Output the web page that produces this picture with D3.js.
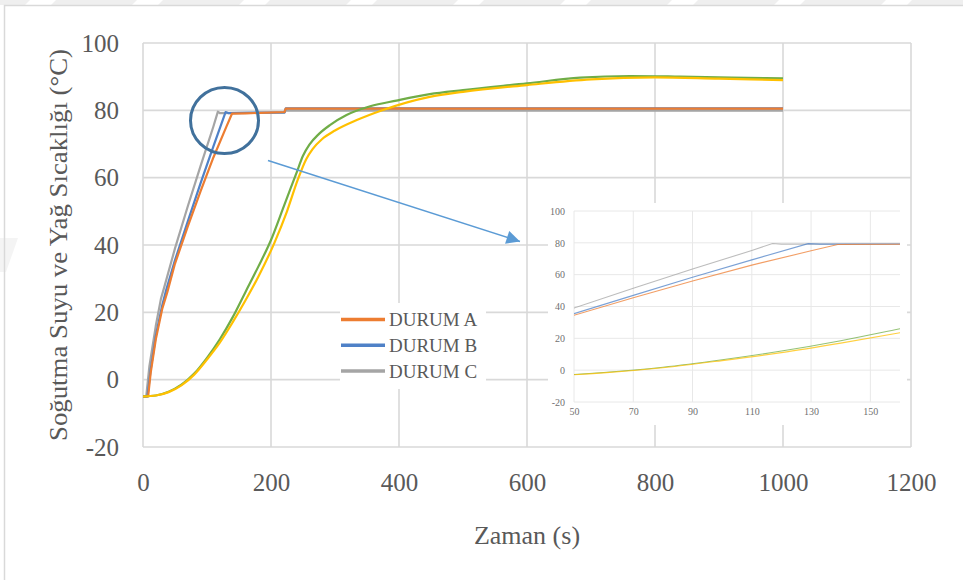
<!DOCTYPE html>
<html>
<head>
<meta charset="utf-8">
<script src="https://d3js.org/d3.v7.min.js"></script>
<style>
  body { margin: 0; background: #fff; }
  svg { display: block; font-family: "Liberation Serif", "Times New Roman", serif; }
</style>
</head>
<body>
<svg id="chart"></svg>
<script>
//Chart Data (time in s, temperature in °C)
const seriesNames = ["DURUM A", "DURUM B", "DURUM C"];
const seriesColors = ["#ED7D31", "#4F81C7", "#A5A5A5"];

const timeA = [0, 8, 12, 20, 30, 38, 50, 70, 90, 110, 130, 139, 160, 221, 223, 1000];
const tempA = [-5, -5, 2, 12, 21, 26, 34.5, 45.5, 56, 66, 75, 79, 79.1, 79.5, 80.5, 80.5];

const timeB = [0, 7, 12, 20, 30, 36, 50, 70, 90, 110, 129, 133, 221, 223, 1000];
const tempB = [-5, -5, 3, 13, 22, 26.5, 35.5, 47, 58.4, 69.3, 79.5, 79.2, 79.4, 80.6, 80.6];

const timeC = [0, 5, 10, 20, 28, 34, 50, 70, 90, 110, 117, 120, 221, 223, 1000];
const tempC = [-5, -5, 4, 16, 24, 28, 39, 51.5, 63.5, 75.2, 79.6, 79.2, 79.3, 79.9, 79.9];

//Oil temperature lines (no legend entry)
const timeGreen = [0, 20, 40, 60, 80, 100, 120, 140, 160, 180, 200, 220, 240, 250, 260, 275, 292, 318, 355, 396, 448, 500, 600, 683, 761, 839, 920, 1000];
const tempGreen = [-5, -4.7, -3.6, -1.5, 1.8, 6.5, 12, 18.5, 26, 33.5, 41.5, 51.5, 61.5, 66.5, 69.8, 73, 75.6, 78.6, 81.2, 82.9, 84.8, 86, 88, 89.7, 90.2, 90, 89.7, 89.5];

const timeYellow = [0, 20, 40, 60, 80, 100, 120, 140, 160, 180, 205, 225, 242, 255, 265, 280, 300, 334, 375, 448, 500, 600, 700, 800, 900, 1000];
const tempYellow = [-5, -4.7, -3.7, -1.7, 1.5, 6, 11, 17, 23.5, 30.5, 40.5, 50, 59.5, 65.5, 68.5, 71.5, 74, 77.1, 80.1, 84, 85.5, 87.5, 89.2, 89.8, 89.4, 89];

//Tick labels
const xTicks = [0, 200, 400, 600, 800, 1000, 1200];
const yTicks = [-20, 0, 20, 40, 60, 80, 100];
const insetXTicks = [50, 70, 90, 110, 130, 150];
const insetYTicks = [-20, 0, 20, 40, 60, 80, 100];

//Build series list (draw order: C, B, A, green, yellow)
const zip = (ts, vs) => ts.map((t, i) => ({ t: t, v: vs[i] }));
const series = [
  { name: seriesNames[2], color: seriesColors[2], pts: zip(timeC, tempC), curve: d3.curveLinear },
  { name: seriesNames[1], color: seriesColors[1], pts: zip(timeB, tempB), curve: d3.curveLinear },
  { name: seriesNames[0], color: seriesColors[0], pts: zip(timeA, tempA), curve: d3.curveLinear },
  { name: "green", color: "#70AD47", pts: zip(timeGreen, tempGreen), curve: d3.curveMonotoneX },
  { name: "yellow", color: "#FFC000", pts: zip(timeYellow, tempYellow), curve: d3.curveMonotoneX }
];

const w = 963;
const h = 580;
const serif = "'Liberation Serif', 'Times New Roman', serif";
const textColor = "#595959";
const gridColor = "#D9D9D9";

const svg = d3.select("#chart").attr("width", w).attr("height", h).attr("font-family", serif);

//Watermark band and chart frame
svg.append("rect").attr("x", 0).attr("y", 0).attr("width", w).attr("height", 5).attr("fill", "#EFEFEF");
svg.selectAll(".gap")
   .data(d3.range(0, 10))
   .enter()
   .append("polygon")
   .attr("points", (d) => {
     const x0 = 30 + d * 107;
     return `${x0},0 ${x0 + 26},0 ${x0 + 21},5 ${x0 - 5},5`;
   })
   .attr("fill", "#fff");
svg.append("polygon").attr("points", "0,238 18,238 6,272 0,272").attr("fill", "#F4F4F4");
svg.append("path")
   .attr("d", `M4.5,${h} V5.5 H${w}`)
   .attr("fill", "none")
   .attr("stroke", gridColor)
   .attr("stroke-width", 1.5);

//Scales
const x = d3.scaleLinear().domain([0, 1200]).range([143, 911]);
const y = d3.scaleLinear().domain([-20, 100]).range([447, 43]);

//Grid
const grid = svg.append("g");
grid.selectAll(".hgrid")
    .data(yTicks)
    .enter()
    .append("line")
    .attr("x1", x(0)).attr("x2", x(1200))
    .attr("y1", (d) => y(d)).attr("y2", (d) => y(d))
    .attr("stroke", gridColor).attr("stroke-width", 1.6);
grid.selectAll(".vgrid")
    .data(xTicks)
    .enter()
    .append("line")
    .attr("x1", (d) => x(d)).attr("x2", (d) => x(d))
    .attr("y1", y(100)).attr("y2", y(-20))
    .attr("stroke", gridColor).attr("stroke-width", 1.6);

//Axes labels through d3 axes
const xAxis = svg.append("g")
                 .attr("transform", `translate(0, ${y(-20)})`)
                 .call(d3.axisBottom(x).tickValues(xTicks).tickSize(0).tickPadding(26).tickFormat(d3.format("d")));
const yAxis = svg.append("g")
                 .attr("transform", `translate(${x(0)}, 0)`)
                 .call(d3.axisLeft(y).tickValues(yTicks).tickSize(0).tickPadding(24).tickFormat(d3.format("d")));
[xAxis, yAxis].forEach((a) => {
  a.attr("font-family", serif).attr("font-size", 25);
  a.select(".domain").remove();
  a.selectAll("text")
   .attr("fill", textColor)
   .style("font-family", serif)
   .style("font-size", "25px");
});
yAxis.selectAll("text").text((d) => d < 0 ? "-" + Math.abs(d) : d);

//Axis titles
svg.append("text")
   .attr("x", 527)
   .attr("y", 544)
   .attr("text-anchor", "middle")
   .attr("fill", textColor)
   .style("font-size", "26px")
   .text("Zaman (s)");

svg.append("text")
   .attr("transform", "translate(67, 245) rotate(-90)")
   .attr("text-anchor", "middle")
   .attr("fill", textColor)
   .attr("textLength", 392)
   .attr("lengthAdjust", "spacingAndGlyphs")
   .style("font-size", "26px")
   .text("Soğutma Suyu ve Yağ Sıcaklığı (°C)");

//Main lines
const plot = svg.append("g");
plot.selectAll(".line")
    .data(series)
    .enter()
    .append("path")
    .attr("fill", "none")
    .attr("stroke", (d) => d.color)
    .attr("stroke-width", 2.2)
    .attr("stroke-linejoin", "round")
    .attr("d", (d) => d3.line().x((p) => x(p.t)).y((p) => y(p.v)).curve(d.curve)(d.pts));

//Legend
svg.append("rect").attr("x", 340).attr("y", 303).attr("width", 146).attr("height", 86).attr("fill", "#fff");
const legend = svg.append("g");
const legendRows = legend.selectAll(".row")
                         .data([0, 1, 2])
                         .enter()
                         .append("g")
                         .attr("transform", (d, i) => `translate(341, ${319.5 + i * 25.8})`);
legendRows.append("line")
          .attr("x1", 0).attr("x2", 44)
          .attr("stroke", (d) => seriesColors[d])
          .attr("stroke-width", 3.5);
legendRows.append("text")
          .attr("x", 48)
          .attr("y", 6.5)
          .attr("fill", textColor)
          .style("font-size", "19px")
          .text((d) => seriesNames[d]);

//Highlight circle and arrow
svg.append("ellipse")
   .attr("cx", 224.5).attr("cy", 120.5)
   .attr("rx", 34).attr("ry", 33)
   .attr("fill", "none")
   .attr("stroke", "#41719C")
   .attr("stroke-width", 3);

const defs = svg.append("defs");
defs.append("marker")
    .attr("id", "arrow")
    .attr("viewBox", "0 0 10 10")
    .attr("refX", 10).attr("refY", 5)
    .attr("markerWidth", 11).attr("markerHeight", 9)
    .attr("markerUnits", "strokeWidth")
    .attr("orient", "auto")
    .append("path")
    .attr("d", "M0,0 L10,5 L0,10 Z")
    .attr("fill", "#5B9BD5");
svg.append("line")
   .attr("x1", 268).attr("y1", 160.5)
   .attr("x2", 520).attr("y2", 241.5)
   .attr("stroke", "#5B9BD5")
   .attr("stroke-width", 1.5)
   .attr("marker-end", "url(#arrow)");

//Inset (zoom on 50-160 s)
svg.append("rect").attr("x", 548).attr("y", 203).attr("width", 359).attr("height", 222).attr("fill", "#fff");
const ix = d3.scaleLinear().domain([50, 160]).range([574, 900]);
const iy = d3.scaleLinear().domain([-20, 100]).range([402, 211]);

defs.append("clipPath")
    .attr("id", "insetClip")
    .append("rect")
    .attr("x", ix(50)).attr("y", iy(100) - 2)
    .attr("width", ix(160) - ix(50)).attr("height", iy(-20) - iy(100) + 2);

const inset = svg.append("g");
inset.selectAll(".ihgrid")
     .data(insetYTicks)
     .enter()
     .append("line")
     .attr("x1", ix(50)).attr("x2", ix(160))
     .attr("y1", (d) => iy(d)).attr("y2", (d) => iy(d))
     .attr("stroke", "#E8E8E8").attr("stroke-width", 1);
inset.selectAll(".ivgrid")
     .data(insetXTicks)
     .enter()
     .append("line")
     .attr("x1", (d) => ix(d)).attr("x2", (d) => ix(d))
     .attr("y1", iy(100)).attr("y2", iy(-20))
     .attr("stroke", "#E8E8E8").attr("stroke-width", 1);

const ixAxis = inset.append("g")
                    .attr("transform", `translate(0, ${iy(-20)})`)
                    .call(d3.axisBottom(ix).tickValues(insetXTicks).tickSize(0).tickPadding(6));
const iyAxis = inset.append("g")
                    .attr("transform", `translate(${ix(50)}, 0)`)
                    .call(d3.axisLeft(iy).tickValues(insetYTicks).tickSize(0).tickPadding(9));
[ixAxis, iyAxis].forEach((a) => {
  a.attr("font-family", serif);
  a.select(".domain").remove();
  a.selectAll("text")
   .attr("fill", "#707070")
   .style("font-family", serif)
   .style("font-size", "10px");
});
iyAxis.selectAll("text").text((d) => d < 0 ? "-" + Math.abs(d) : d);

inset.append("g")
     .attr("clip-path", "url(#insetClip)")
     .selectAll(".iline")
     .data(series)
     .enter()
     .append("path")
     .attr("fill", "none")
     .attr("stroke", (d) => d.color)
     .attr("stroke-width", 1.1)
     .attr("opacity", 0.75)
     .attr("d", (d) => d3.line().x((p) => ix(p.t)).y((p) => iy(p.v)).curve(d.curve)(d.pts));
</script>
</body>
</html>
